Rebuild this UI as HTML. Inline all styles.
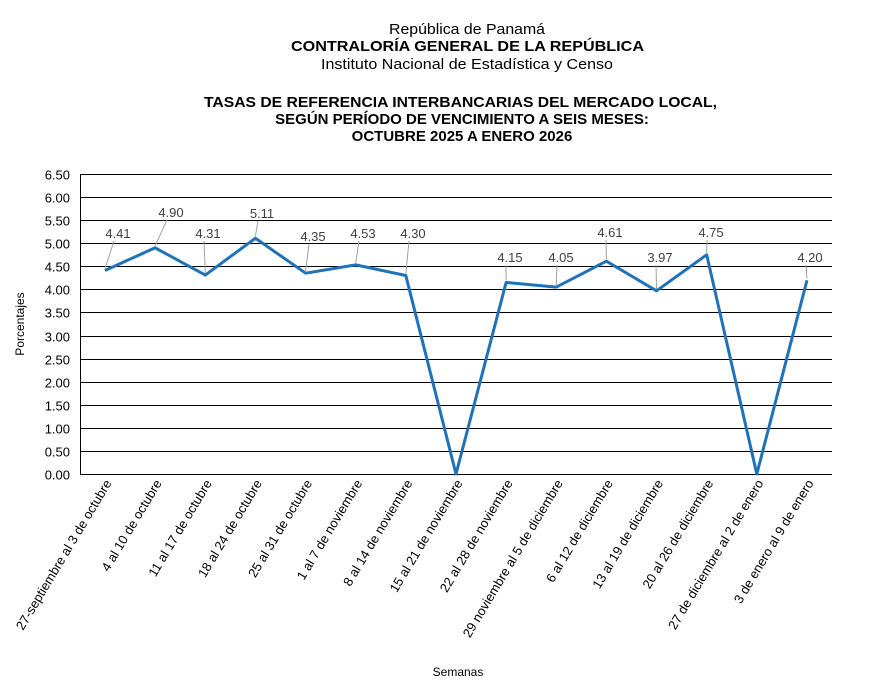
<!DOCTYPE html>
<html><head><meta charset="utf-8"><style>
body{margin:0;background:#fff;}
svg text{font-family:"Liberation Sans",sans-serif;}
</style></head><body>
<svg width="879" height="685" xmlns="http://www.w3.org/2000/svg">
<text x="467" y="34" font-size="15" text-anchor="middle" textLength="156" lengthAdjust="spacingAndGlyphs">República de Panamá</text>
<text x="467.5" y="51" font-size="15" font-weight="bold" text-anchor="middle" textLength="353" lengthAdjust="spacingAndGlyphs">CONTRALORÍA GENERAL DE LA REPÚBLICA</text>
<text x="467" y="69" font-size="15" text-anchor="middle" textLength="292" lengthAdjust="spacingAndGlyphs">Instituto  Nacional de Estadística y Censo</text>
<text x="460.5" y="107" font-size="15" font-weight="bold" text-anchor="middle" textLength="513" lengthAdjust="spacingAndGlyphs">TASAS DE REFERENCIA INTERBANCARIAS DEL MERCADO LOCAL,</text>
<text x="462" y="124" font-size="15" font-weight="bold" text-anchor="middle">SEGÚN PERÍODO DE VENCIMIENTO A SEIS MESES:</text>
<text x="462" y="141" font-size="15" font-weight="bold" text-anchor="middle">OCTUBRE 2025 A ENERO 2026</text>
<g id="grid" stroke="#000" stroke-width="1"></g>
<g id="yl" font-size="13" text-anchor="end"></g>
<line x1="80.5" y1="174" x2="80.5" y2="474" stroke="#000"/>
<g id="lead" stroke="#a0a0a0" stroke-width="1"></g>
<polyline id="ln" fill="none" stroke="#1f72b8" stroke-width="3" stroke-linejoin="round"/>
<g id="dl" font-size="13" fill="#404040" text-anchor="middle"></g>
<g id="xl" font-size="13"></g>
<text x="24" y="324" font-size="12" text-anchor="middle" transform="rotate(-90 24 324)">Porcentajes</text>
<text x="458" y="676" font-size="12" text-anchor="middle">Semanas</text>
</svg>
<script>
const ns="http://www.w3.org/2000/svg";
function el(t,a,p,txt){const e=document.createElementNS(ns,t);for(const k in a)e.setAttribute(k,a[k]);if(txt!==undefined)e.textContent=txt;document.getElementById(p).appendChild(e);}
const Y=v=>474-v*46.154;
for(let i=0;i<=13;i++){const v=i*0.5,y=Math.round(Y(v))+0.5;el('line',{x1:80,x2:832,y1:y,y2:y},'grid');el('text',{x:70,y:y+5},'yl',v.toFixed(2));}
const vals=[4.41,4.90,4.31,5.11,4.35,4.53,4.30,0,4.15,4.05,4.61,3.97,4.75,0,4.20];
const lab=[[118,233],[171,212],[208,233],[262,213],[313,236],[363,233],[413,233],null,[510,257],[561,257],[610,232],[660,257],[711,232],null,[810,257]];
const names=["27-septiembre al 3 de octubre","4 al 10 de octubre","11 al 17 de octubre","18 al 24 de octubre","25 al 31 de octubre","1 al 7 de noviembre","8 al 14 de noviembre","15 al 21 de noviembre","22 al 28 de noviembre","29 noviembre al 5 de diciembre","6 al 12 de diciembre","13 al 19 de diciembre","20 al 26 de diciembre","27 de diciembre al 2 de enero","3 de enero al 9 de enero"];
let pts=[];
vals.forEach((v,i)=>{const x=105+i*50.14,y=Y(v);pts.push(x.toFixed(1)+','+y.toFixed(1));
 if(lab[i]){const [lx,ly]=lab[i];el('text',{x:lx,y:ly+5},'dl',v.toFixed(2));
  if(Math.abs(ly+8-y)>8) el('line',{x1:lx-4,y1:ly+8,x2:x,y2:y-2},'lead');}
 const tx=x+7,ty=483;el('text',{x:tx,y:ty,'text-anchor':'end',transform:`rotate(-59 ${tx} ${ty})`},'xl',names[i]);
});
document.getElementById('ln').setAttribute('points',pts.join(' '));
</script>
</body></html>
